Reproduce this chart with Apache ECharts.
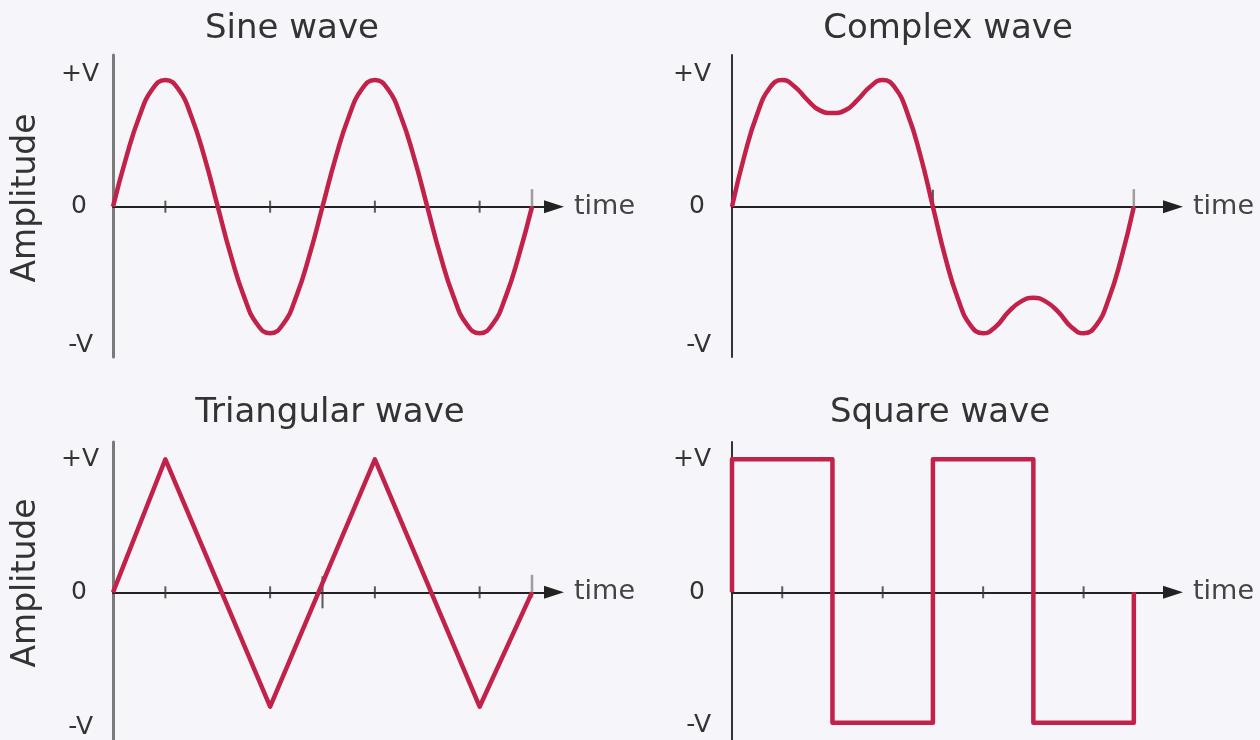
<!DOCTYPE html>
<html>
<head>
<meta charset="utf-8">
<title>Waveforms</title>
<script src="https://cdn.jsdelivr.net/npm/echarts@6/dist/echarts.min.js"></script>
<style>
  html, body { margin: 0; padding: 0; background: #f6f6fa; }
  #chart { width: 1260px; height: 740px; }
</style>
</head>
<body>
<div id="chart"></div>
<script>
// time unit = a quarter of the sine period, so one drawing spans 0..8
var timeSteps = [0, 0.25, 0.5, 0.75, 1, 1.25, 1.5, 1.75, 2, 2.25, 2.5, 2.75, 3, 3.25, 3.5, 3.75,
                 4, 4.25, 4.5, 4.75, 5, 5.25, 5.5, 5.75, 6, 6.25, 6.5, 6.75, 7, 7.25, 7.5, 7.75, 8];

// values (+V = 1, -V = -1)
var sineValues = [0, 0.37, 0.68, 0.89, 0.96, 0.89, 0.68, 0.37, 0, -0.37, -0.68, -0.89, -0.96, -0.89, -0.68, -0.37,
                  0, 0.37, 0.68, 0.89, 0.96, 0.89, 0.68, 0.37, 0, -0.37, -0.68, -0.89, -0.96, -0.89, -0.68, -0.37, 0];
var complexValues = [0, 0.39, 0.70, 0.90, 0.96, 0.91, 0.81, 0.73, 0.71, 0.73, 0.81, 0.91, 0.96, 0.90, 0.70, 0.39,
                     0, -0.39, -0.70, -0.90, -0.96, -0.91, -0.80, -0.72, -0.69, -0.72, -0.80, -0.91, -0.96, -0.90, -0.70, -0.39, 0];
var triangleTimes = [0, 1, 3, 5, 7, 8];
var triangleValues = [0, 1, -0.86, 1, -0.86, 0];
var squareTimes = [0, 0, 2, 2, 4, 4, 6, 6, 8, 8];
var squareValues = [0, 1, 1, -0.98, -0.98, 1, 1, -0.98, -0.98, 0];

var levelTicks = [-1, 0, 1];
var levelNames = { '-1': '{n|-V}', '0': '{z|0}', '1': '{p|+V}' };
var smallTicks = [1, 3, 5, 7];
var titles = ['Sine wave', 'Complex wave', 'Triangular wave', 'Square wave'];

var waveColor = '#c2214a';
var textColor = '#333';

function pairs(xs, ys) {
  return xs.map(function (x, i) { return [x, ys[i]]; });
}

// one panel = grid + x axis + y axis
var panels = [
  { left: 113, top: 55,  width: 441, height: 302, xMax: 8.42, yMin: -1.14, yMax: 1.15, yColor: '#7a7a7a', yWidth: 3,
    yName: 'Amplitude', margin: 14, zeroPad: 12, negPad: [14, 6, 0, 0], titleX: 292, titleY: 29 },
  { left: 732, top: 55,  width: 441, height: 302, xMax: 8.78, yMin: -1.14, yMax: 1.15, yColor: '#333', yWidth: 2,
    yName: '', margin: 21, zeroPad: 6, negPad: [14, 0, 0, 0], titleX: 948, titleY: 29 },
  { left: 113, top: 442, width: 441, height: 298, xMax: 8.42, yMin: -1.11, yMax: 1.13, yColor: '#7a7a7a', yWidth: 3,
    yName: 'Amplitude', margin: 14, zeroPad: 12, negPad: [4, 6, 0, 0], titleX: 330, titleY: 413 },
  { left: 732, top: 442, width: 441, height: 298, xMax: 8.78, yMin: -1.11, yMax: 1.13, yColor: '#333', yWidth: 2,
    yName: '', margin: 21, zeroPad: 6, negPad: [0, 0, 0, 0], titleX: 940, titleY: 413 }
];

var grids = [], xAxes = [], yAxes = [], graphics = [];
panels.forEach(function (p, i) {
  grids.push({ left: p.left, top: p.top, width: p.width, height: p.height, outerBoundsMode: 'none' });
  xAxes.push({
    gridIndex: i, type: 'value', min: 0, max: p.xMax,
    name: 'time', nameLocation: 'end', nameGap: 20,
    nameTextStyle: { fontSize: 27, color: '#444', fontFamily: 'DejaVu Sans', verticalAlign: 'middle' },
    axisLine: { onZero: true, symbol: ['none', 'triangle'], symbolSize: [13, 20], lineStyle: { color: '#222', width: 2 } },
    axisTick: { show: false }, axisLabel: { show: false }, splitLine: { show: false }
  });
  yAxes.push({
    gridIndex: i, type: 'value', min: p.yMin, max: p.yMax,
    name: p.yName, nameLocation: 'middle', nameGap: 70,
    nameTextStyle: { fontSize: 33, color: textColor, fontFamily: 'DejaVu Sans', padding: [0, 0, 0, 16] },
    axisLine: { show: true, lineStyle: { color: p.yColor, width: p.yWidth } },
    axisTick: { show: false }, splitLine: { show: false },
    axisLabel: {
      customValues: levelTicks, margin: p.margin, fontSize: 25, color: textColor, fontFamily: 'DejaVu Sans',
      formatter: function (v) { return levelNames[String(v)]; },
      rich: {
        p: { fontSize: 25, color: textColor },
        z: { fontSize: 25, color: textColor, padding: [0, p.zeroPad, 0, 0] },
        n: { fontSize: 25, color: textColor, padding: p.negPad }
      }
    }
  });
  graphics.push({
    type: 'text', x: p.titleX, y: p.titleY,
    style: { text: titles[i], fill: textColor, font: '34px "DejaVu Sans"', align: 'center', verticalAlign: 'middle' }
  });
});

function wave(i, data, smooth) {
  return {
    type: 'line', xAxisIndex: i, yAxisIndex: i, data: data, smooth: smooth,
    showSymbol: false, silent: true, z: 5,
    lineStyle: { color: waveColor, width: 4.5, join: 'round' }
  };
}
function ticks(i, times, color, size, offset) {
  return {
    type: 'scatter', xAxisIndex: i, yAxisIndex: i, silent: true, z: 3,
    data: times.map(function (t) { return [t, 0]; }),
    symbol: 'rect', symbolSize: size, symbolOffset: offset || [0, 0],
    itemStyle: { color: color }
  };
}

var series = [
  wave(0, pairs(timeSteps, sineValues), 0.5),
  wave(1, pairs(timeSteps, complexValues), 0.5),
  wave(2, pairs(triangleTimes, triangleValues), false),
  wave(3, pairs(squareTimes, squareValues), false),
  ticks(0, smallTicks, '#333', [2, 12]),
  ticks(0, [8], '#888', [2.5, 23], [0, -6]),
  ticks(1, [4], '#333', [2, 18], [0, -8]),
  ticks(1, [8], '#888', [2.5, 23], [0, -6]),
  ticks(2, smallTicks, '#333', [2, 12]),
  ticks(2, [4], '#333', [2, 32]),
  ticks(2, [8], '#888', [2.5, 23], [0, -6]),
  ticks(3, smallTicks, '#333', [2, 12])
];

var myChart = echarts.init(document.getElementById('chart'));
myChart.setOption({
  backgroundColor: '#f6f6fa',
  animation: false,
  textStyle: { fontFamily: 'DejaVu Sans' },
  grid: grids,
  xAxis: xAxes,
  yAxis: yAxes,
  series: series,
  graphic: graphics
});
window.addEventListener('resize', function () { myChart.resize(); });
</script>
</body>
</html>
